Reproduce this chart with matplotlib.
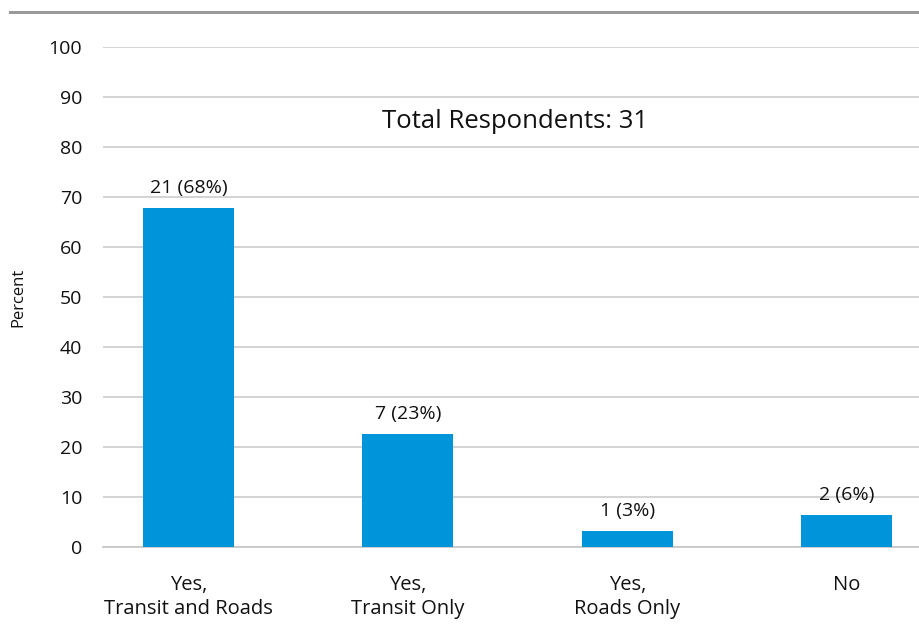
import numpy as np
import matplotlib.pyplot as plt

categories = ["Yes,\nTransit and Roads", "Yes,\nTransit Only", "Yes,\nRoads Only", "No"]
counts = [21, 7, 1, 2]
total = 31
percents = [c / total * 100 for c in counts]
bar_labels = ["21 (68%)", "7 (23%)", "1 (3%)", "2 (6%)"]

plt.rcParams['font.family'] = ['Open Sans', 'DejaVu Sans']

fig = plt.figure(figsize=(9.19, 6.24), dpi=100)
ax = fig.add_axes([103 / 919, (624 - 547) / 624, (919 - 103) / 919, 500 / 624])

x = np.arange(len(categories))
ax.bar(x, percents, width=0.415, color="#0095da", zorder=3)

for xi, p, lab in zip(x, percents, bar_labels):
    ax.annotate(lab, (xi, p), xytext=(0, 8), textcoords="offset points",
                ha="center", va="bottom", fontsize=14, color="#111111")

ax.set_xlim(-0.39, 3.33)
ax.set_ylim(0, 100)
ax.set_yticks(range(0, 101, 10))
ax.yaxis.grid(True, color="#d0d0d0", linewidth=1.3, zorder=0)
ax.set_axisbelow(True)
for s in ["top", "right", "left"]:
    ax.spines[s].set_visible(False)
ax.spines["bottom"].set_color("#c8c8c8")
ax.spines["bottom"].set_linewidth(1.3)
ax.tick_params(axis="both", length=0, labelsize=14, colors="#111111")
ax.tick_params(axis="y", pad=15)
ax.tick_params(axis="x", pad=20)
ax.set_xticks(x)
ax.set_xticklabels(categories, fontsize=14.5, linespacing=1.25)

ax.set_ylabel("Percent", fontsize=12, color="#111111")
ax.yaxis.set_label_coords(-77 / 816, 0.5)

ax.text(1.49, 85, "Total Respondents: " + str(total), ha="center", va="center",
        fontsize=18.5, color="#111111")

# gray rule along the top
fig.add_artist(plt.Line2D([10 / 919, 1], [1 - 12 / 624, 1 - 12 / 624],
                          color="#999999", linewidth=2.2))

plt.savefig("out.png", dpi=100)
